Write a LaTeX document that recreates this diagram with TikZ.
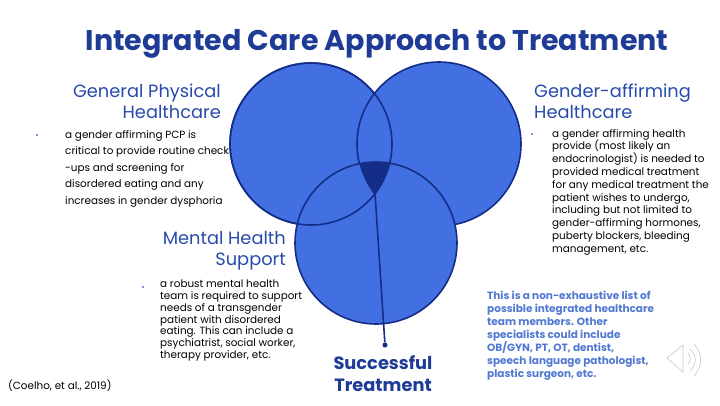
\documentclass[tikz,border=0pt]{standalone}
\usepackage{fontspec}
\setmainfont{Poppins}
\definecolor{ttl}{RGB}{30,60,150}
\definecolor{cfill}{RGB}{66,112,226}
\definecolor{cline}{RGB}{20,45,135}
\definecolor{note}{RGB}{80,120,210}
\definecolor{head}{RGB}{40,75,170}
\definecolor{bul}{RGB}{120,150,220}
\begin{document}
\begin{tikzpicture}[x=1pt,y=-1pt,
  circ/.style={fill=cfill,draw=cline,line width=1.6pt},
  headr/.style={font=\fontsize{17.8}{21}\selectfont,text=head,align=right,inner sep=0},
  headl/.style={font=\fontsize{17.8}{21}\selectfont,text=head,align=left,inner sep=0},
  body/.style={font=\fontsize{10.4}{16.5}\selectfont,align=left,inner sep=0,anchor=north west},
  bullet/.style={fill=bul,minimum size=2.5pt,inner sep=0}]
\useasboundingbox (0,0) rectangle (720,405);
\node[font=\bfseries\fontsize{28.5}{30}\selectfont,text=ttl] (title) at (377,44) {Integrated Care Approach to Treatment};
\path[circ] (311,144) circle (81);
\path[circ] (439,144) circle (82);
\path[circ] (376,243) circle (81);
\draw[cline,line width=1.6pt] (311,144) circle (81);
\begin{scope}
\clip (311,144) circle (81);
\clip (439,144) circle (82);
\fill[cline] (376,243) circle (81);
\end{scope}
\node[headr,anchor=north east] (gp) at (221,84) {General Physical\\Healthcare};
\node[bullet] (b1) at (37,135) {};
\node[body] (t1) at (65,130) {a gender affirming PCP is\\critical to provide routine check\\-ups and screening for\\disordered eating and any\\increases in gender dysphoria};
\node[headl,anchor=north west] (ga) at (534,84) {Gender-affirming\\Healthcare};
\node[bullet] (b2) at (532,134) {};
\node[body,font=\fontsize{10.4}{12.8}\selectfont] (t2) at (552,129) {a gender affirming health\\provide (most likely an\\endocrinologist) is needed to\\provided medical treatment\\for any medical treatment the\\patient wishes to undergo,\\including but not limited to\\gender-affirming hormones,\\puberty blockers, bleeding\\management, etc.};
\node[headr,anchor=north east] (mh) at (286,231) {Mental Health\\Support};
\node[bullet] (b3) at (143,287) {};
\node[body,font=\fontsize{10.4}{11.7}\selectfont] (t3) at (160,280) {a robust mental health\\team is required to support\\needs of a transgender\\patient with disordered\\eating. This can include a\\psychiatrist, social worker,\\therapy provider, etc.};
\node[body,anchor=west] (cite) at (8,386) {(Coelho, et al., 2019)};
\coordinate (top) at (375,193);
\node[circle,fill=cline,minimum size=5pt,inner sep=0] (dot) at (385,345) {};
\draw[cline,line width=1.6pt] (top) -- (dot);
\node[font=\bfseries\fontsize{17.8}{22}\selectfont,text=ttl,align=center] (st) at (383,374) {Successful\\Treatment};
\node[body,font=\bfseries\fontsize{10.5}{13}\selectfont,text=note] (nt) at (487,291) {This is a non-exhaustive list of\\possible integrated healthcare\\team members. Other\\specialists could include\\OB/GYN, PT, OT, dentist,\\speech language pathologist,\\plastic surgeon, etc.};
\draw[gray!45,line width=0.6pt] (683,345) -- (667,358) -- (683,372) -- cycle;
\draw[gray!45,line width=0.6pt] (688,353) .. controls (691,356) and (691,361) .. (688,364);
\draw[gray!45,line width=0.6pt] (690,349) .. controls (697,356) and (697,364) .. (690,371);
\draw[gray!45,line width=0.6pt] (694,344) .. controls (703,354) and (703,366) .. (694,376);
\end{tikzpicture}
\end{document}
